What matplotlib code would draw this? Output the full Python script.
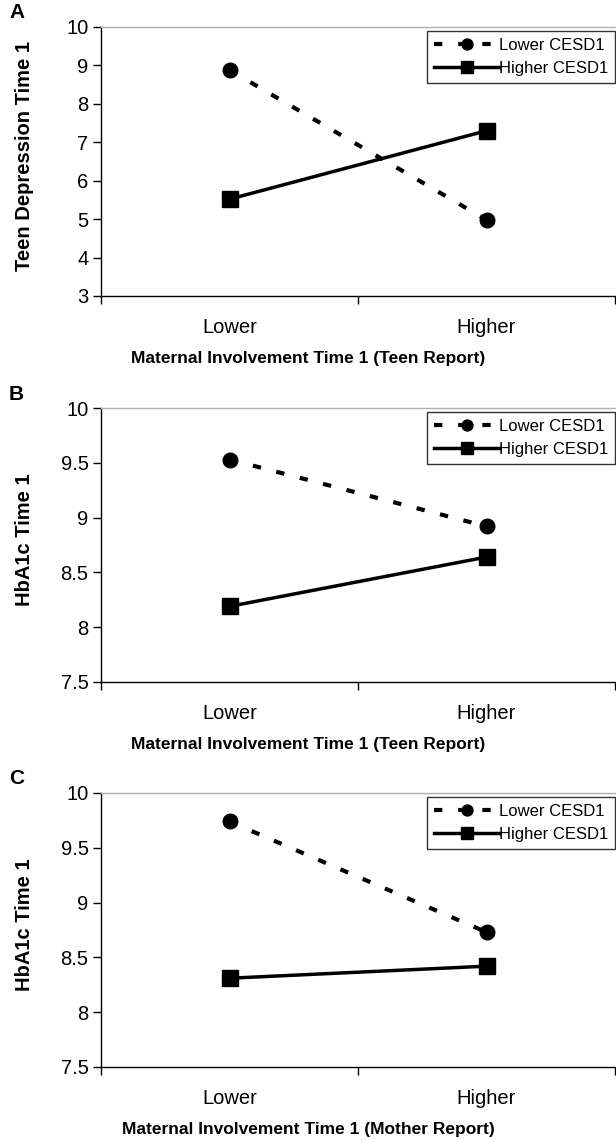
import matplotlib.pyplot as plt

plt.rcParams['font.family'] = ['Liberation Sans', 'DejaVu Sans']

# x categories
groups = ['Lower', 'Higher']
series_names = ['Lower CESD1', 'Higher CESD1']

# panel A: teen depression
a_lower_cesd = [8.88, 4.98]
a_higher_cesd = [5.52, 7.30]

# panel B: HbA1c, teen report
b_lower_cesd = [9.53, 8.92]
b_higher_cesd = [8.19, 8.64]

# panel C: HbA1c, mother report
c_lower_cesd = [9.74, 8.73]
c_higher_cesd = [8.31, 8.42]

panels = [
    ('A', a_lower_cesd, a_higher_cesd, 'Teen Depression Time 1', 'Maternal Involvement Time 1 (Teen Report)',
     (3, 10), [3, 4, 5, 6, 7, 8, 9, 10], ['3', '4', '5', '6', '7', '8', '9', '10']),
    ('B', b_lower_cesd, b_higher_cesd, 'HbA1c Time 1', 'Maternal Involvement Time 1 (Teen Report)',
     (7.5, 10), [7.5, 8, 8.5, 9, 9.5, 10], ['7.5', '8', '8.5', '9', '9.5', '10']),
    ('C', c_lower_cesd, c_higher_cesd, 'HbA1c Time 1', 'Maternal Involvement Time 1 (Mother Report)',
     (7.5, 10), [7.5, 8, 8.5, 9, 9.5, 10], ['7.5', '8', '8.5', '9', '9.5', '10']),
]

W, H = 616, 1140
fig = plt.figure(figsize=(W / 100, H / 100), dpi=100)

# axes boxes in pixels: left, top, right, bottom
boxes_px = [
    (101, 27, 615, 296),
    (101, 408, 615, 682),
    (101, 793, 615, 1067),
]

for (letter, low, high, ylab, xlab, ylim, yticks, yticklabels), (l, t, r, b) in zip(panels, boxes_px):
    ax = fig.add_axes([l / W, 1 - b / H, (r - l) / W, (b - t) / H])
    xs = [0.5, 1.5]

    ax.plot(xs, low, color='black', lw=3, linestyle=(0, (2.0, 3.8)),
            marker='o', markersize=10.5, label=series_names[0], dash_capstyle='butt')
    ax.plot(xs, high, color='black', lw=2.5, linestyle='-',
            marker='s', markersize=11, label=series_names[1])

    ax.set_xlim(0, 2)
    ax.set_ylim(*ylim)
    ax.set_yticks(yticks)
    ax.set_yticklabels(yticklabels)

    ax.set_xticks([0, 1, 2])
    ax.set_xticklabels([])
    ax.set_xticks(xs, minor=True)
    ax.set_xticklabels(groups, minor=True)
    ax.tick_params(axis='x', which='major', direction='out', length=6, width=1)
    ax.tick_params(axis='x', which='minor', length=0, pad=16, labelsize=14.5)
    ax.tick_params(axis='y', direction='out', length=6, width=1, labelsize=14.5, pad=3)

    ax.spines['right'].set_visible(False)
    ax.spines['top'].set_color('#b0b0b0')
    ax.spines['top'].set_linewidth(1)
    ax.spines['left'].set_linewidth(1)
    ax.spines['bottom'].set_linewidth(1)

    ax.set_ylabel(ylab, fontsize=14.5, fontweight='bold')
    ax.yaxis.set_label_coords(-0.13, 0.52)
    ax.set_xlabel(xlab, fontsize=12.5, fontweight='bold', labelpad=10)
    ax.xaxis.label.set_x((W / 2 - l) / (r - l))

    leg = ax.legend(loc='upper right', bbox_to_anchor=(1.0, 0.985), frameon=True, fancybox=False,
                    edgecolor='black', fontsize=12, handlelength=3.9, handletextpad=0.0,
                    borderpad=0.4, labelspacing=0.5, borderaxespad=0, markerscale=0.75)
    leg.get_frame().set_linewidth(1)

    fig.text(9 / W, 1 - (t - 14) / H, letter, fontsize=15, fontweight='bold',
             ha='left', va='center')

fig.savefig('out.png', dpi=100)
